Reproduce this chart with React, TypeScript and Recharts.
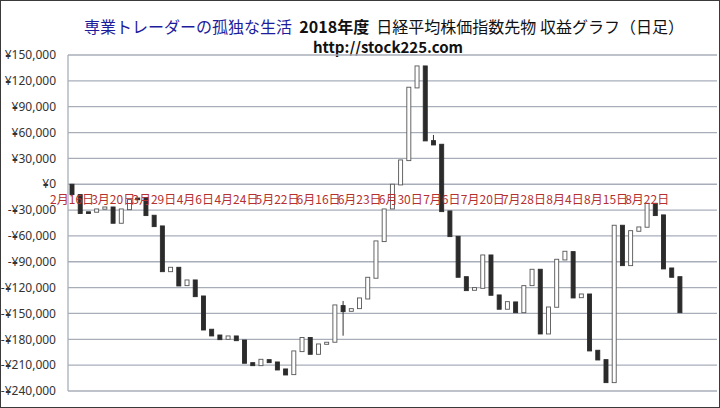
import { BarChart, Bar, XAxis, YAxis, CartesianGrid, ReferenceDot } from "recharts";

// 日足: 始値・終値（累計損益, 円）
const opens = [
  0, -12000, -32000, -32500, -29000, -26400, -45300, -29500, -16000, -15500,
  -36000, -48400, -101500, -96400, -117700, -111100, -129700, -168300, -175000, -180000,
  -176100, -180800, -207100, -210600, -203600, -206300, -214400, -221000, -194300, -177900,
  -197400, -185800, -183400, -140900, -147500, -144400, -133200, -109100, -66600, -28700,
  -800, 27400, 111800, 137300, 50600, 46400, -31000, -60400, -107300, -123100,
  -120800, -82100, -128500, -145100, -136600, -149100, -117700, -98700, -173800, -142800,
  -87900, -78200, -131700, -127400, -192700, -203600, -230300, -47600, -94500, -54600,
  -49900, -22100, -35600, -97200, -107300,
];
const closes = [
  -12000, -34000, -34000, -28700, -26400, -45300, -28700, -17800, -18000, -36400,
  -49200, -101500, -96400, -118100, -111100, -130500, -169200, -176100, -180400, -176100,
  -181600, -207800, -210600, -203200, -207100, -215600, -221400, -193500, -177900, -197400,
  -185400, -183400, -140100, -147900, -144400, -132000, -108000, -65800, -28700, 0,
  28200, 112600, 137300, 50300, 45600, -31800, -60800, -108000, -123500, -120000,
  -82100, -128900, -145100, -136300, -149100, -117700, -98700, -173800, -142500, -87100,
  -77800, -132000, -127400, -193500, -204000, -230300, -47600, -94500, -53900, -49600,
  -22100, -36400, -98300, -108000, -149100,
];
// ヒゲがある日だけ（index: [高値, 安値]）
const wicks: Record<number, [number, number]> = {
  33: [-135500, -175800],
  44: [57200, 45600],
};
const tickLabels = [
  "2月16日", "3月20日", "3月29日", "4月6日", "4月24日", "5月22日", "6月16日", "6月23日",
  "6月30日", "7月6日", "7月20日", "7月28日", "8月4日", "8月15日", "8月22日",
];
const dayCount = 79;
const yTicks = [150000, 120000, 90000, 60000, 30000, 0, -30000, -60000, -90000, -120000, -150000, -180000, -210000, -240000];

const data = Array.from({ length: dayCount }, (_, i) => {
  if (i >= opens.length) return { idx: i };
  const o = opens[i];
  const c = closes[i];
  return {
    idx: i,
    open: o,
    close: c,
    body: [Math.min(o, c), Math.max(o, c)],
    wick: wicks[i],
  };
});

const yen = (v: number) => (v === 0 ? "¥0" : (v < 0 ? "-¥" : "¥") + Math.abs(v).toLocaleString("en-US"));

function Candle(props: any) {
  const { x, y, width, height, payload } = props;
  if (!payload || payload.open === undefined) return null;
  const up = payload.close > payload.open;
  const [lo, hi] = payload.body;
  let wick = null;
  if (payload.wick && hi > lo) {
    const k = height / (hi - lo);
    const cx = x + width / 2;
    wick = (
      <line
        x1={cx}
        x2={cx}
        y1={y - (payload.wick[0] - hi) * k}
        y2={y + height + (lo - payload.wick[1]) * k}
        stroke="#333"
        strokeWidth={1}
      />
    );
  }
  return (
    <g>
      {wick}
      <rect
        x={x}
        y={y}
        width={width}
        height={Math.max(height, 1.5)}
        fill={up ? "#ffffff" : "#2b2b2b"}
        stroke={up ? "#555" : "#2b2b2b"}
        strokeWidth={0.9}
      />
    </g>
  );
}

export default function App() {
  return (
    <div
      style={{
        position: "relative",
        width: 720,
        height: 408,
        boxSizing: "border-box",
        border: "1px solid #3a3a3a",
        background: "#fff",
        fontFamily: "'Noto Sans CJK JP', 'Noto Sans', sans-serif",
        overflow: "hidden",
      }}
    >
      <style>{"body{margin:0}"}</style>
      <div
        style={{
          position: "absolute",
          top: 14,
          left: 23,
          width: 720,
          textAlign: "center",
          fontSize: 16,
          lineHeight: "22px",
          whiteSpace: "nowrap",
          color: "#111",
        }}
      >
        <span style={{ color: "#1c1c9c" }}>専業トレーダーの孤独な生活</span>
        <span style={{ fontWeight: 700 }}>&nbsp; 2018年度</span>
        <span>&nbsp; 日経平均株価指数先物 収益グラフ（日足）</span>
      </div>
      <div
        style={{
          position: "absolute",
          top: 36,
          left: 24,
          width: 726,
          textAlign: "center",
          fontSize: 15,
          fontWeight: 700,
          lineHeight: "20px",
          color: "#111",
        }}
      >
        http://stock225.com
      </div>
      <div style={{ position: "absolute", top: -1, left: -1 }}>
        <BarChart
          width={720}
          height={408}
          data={data}
          margin={{ top: 55, right: 3, bottom: 17, left: 8 }}
          barCategoryGap={0}
        >
          <CartesianGrid vertical={false} stroke="#a8aeb9" strokeWidth={1.3} />
          <XAxis dataKey="idx" type="category" hide />
          <YAxis
            domain={[-240000, 150000]}
            ticks={yTicks}
            interval={0}
            tickFormatter={yen}
            width={60}
            axisLine={{ stroke: "#a8aeb9", strokeWidth: 1.3 }}
            tickLine={false}
            tick={{ fill: "#333", fontSize: 12, fontFamily: "'Noto Sans', sans-serif" }}
            tickMargin={6}
          />
          <Bar dataKey="body" barSize={4} shape={<Candle />} isAnimationActive={false} />
          {tickLabels.map((t, k) => (
            <ReferenceDot
              key={t}
              x={k * 5}
              y={0}
              r={0}
              stroke="none"
              fill="none"
              label={{ value: t, position: "bottom", offset: 11, fill: "#b5302f", fontSize: 12 }}
            />
          ))}
        </BarChart>
      </div>
    </div>
  );
}
